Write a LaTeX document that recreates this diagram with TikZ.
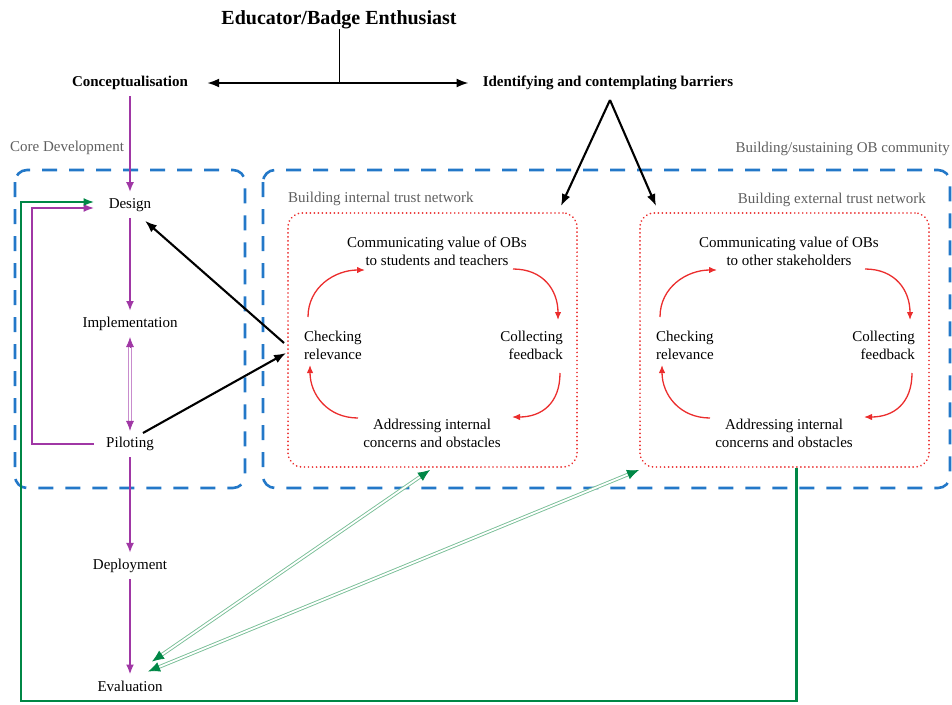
\documentclass[tikz,border=0pt]{standalone}
\usepackage{fontspec}
\setmainfont{Liberation Serif}
\usetikzlibrary{arrows.meta,calc}
\definecolor{obpurple}{RGB}{160,55,165}
\definecolor{obpurplelight}{RGB}{200,140,205}
\definecolor{obblue}{RGB}{35,120,200}
\definecolor{obred}{RGB}{235,45,45}
\definecolor{obgreen}{RGB}{0,135,70}
\definecolor{obgreenlight}{RGB}{120,190,150}
\definecolor{obgray}{RGB}{95,95,95}
\begin{document}
\begin{tikzpicture}[x=1pt,y=-1pt,
  every node/.style={font=\fontsize{15}{18}\selectfont, inner sep=0pt},
  colnode/.style={inner sep=6pt},
  boldnode/.style={font=\fontsize{15}{18}\selectfont\bfseries},
  graylabel/.style={text=obgray},
  bluedash/.style={draw=obblue, line width=2.6pt, dash pattern=on 15pt off 12pt, rounded corners=12pt},
  redbox/.style={draw=obred, line width=1.9pt, dash pattern=on 0.01pt off 4pt, line cap=round, rounded corners=14pt, minimum width=289pt, minimum height=254pt},
  parrow/.style={draw=obpurple, line width=2pt, -{Latex[length=10pt,width=8pt]}},
  ploop/.style={draw=obpurple, line width=2.2pt, -{Latex[length=11pt,width=8pt]}},
  gloop/.style={draw=obgreen, line width=2.2pt, -{Latex[length=11pt,width=8pt]}},
  barrow/.style={draw=black, line width=2.1pt, -{Latex[length=12pt,width=9pt]}},
  bdarrow/.style={draw=black, line width=2.1pt, {Latex[length=12pt,width=9pt]}-{Latex[length=12pt,width=9pt]}},
  rarrow/.style={draw=obred, line width=1.3pt, -{Latex[length=8pt,width=6.5pt]}},
  dblg/.style={draw=obgreenlight, double=white, double distance=1.8pt, line width=0.9pt},
  dblp/.style={draw=obpurplelight, double=white, double distance=1.8pt, line width=0.9pt},
  gtip/.style={draw=obgreen, line width=0.8pt, -{Latex[length=12pt,width=10pt]}},
  ptip/.style={draw=obpurple, line width=0.8pt, -{Latex[length=10pt,width=8pt]}}
]
\useasboundingbox (0,0) rectangle (952,704);

% dashed regions
\draw[bluedash] (15,170) rectangle (245,488);
\draw[bluedash] (263,170) rectangle (950,488);

% labels
\node[graylabel, anchor=west] (lcore) at (10,148) {Core Development};
\node[graylabel, anchor=east] (lcomm) at (950,149) {Building/sustaining OB community};
\node[graylabel, anchor=west] (lint) at (288,199) {Building internal trust network};
\node[graylabel, anchor=east] (lext) at (926,200) {Building external trust network};

% top
\node[font=\fontsize{20}{24}\selectfont\bfseries] (title) at (339,20) {Educator/Badge Enthusiast};
\node[boldnode, colnode] (concept) at (130,83) {Conceptualisation};
\node[boldnode] (ident) at (608,83) {Identifying and contemplating barriers};

% core column
\node[colnode] (design) at (130,205) {Design};
\node[colnode] (impl) at (130,324) {Implementation};
\node[colnode] (pilot) at (130,444) {Piloting};
\node[colnode] (deploy) at (130,566) {Deployment};
\node[colnode] (eval) at (130,686) {Evaluation};

% trust network boxes
\node[redbox] (intbox) at (432.5,340) {};
\node[redbox] (extbox) at (784.5,340) {};

% internal network texts
\node[align=center] (comm1) at (437,251) {Communicating value of OBs\\to students and teachers};
\node[align=left, anchor=west] (chk1) at (304,345) {Checking\\relevance};
\node[align=right, anchor=east] (col1) at (563,345) {Collecting\\feedback};
\node[align=center] (adr1) at (432,433) {Addressing internal\\concerns and obstacles};
% external network texts
\node[align=center] (comm2) at (789,251) {Communicating value of OBs\\to other stakeholders};
\node[align=left, anchor=west] (chk2) at (656,345) {Checking\\relevance};
\node[align=right, anchor=east] (col2) at (915,345) {Collecting\\feedback};
\node[align=center] (adr2) at (784,433) {Addressing internal\\concerns and obstacles};

% top connectors
\coordinate (ha) at ($(concept.east)+(13,0)$);
\coordinate (hb) at ($(ident.west)+(-14,0)$);
\draw[bdarrow] (ha) -- (hb);
\draw[line width=0.7pt] (title.south) -- (title.south |- ha);
\draw[barrow] ($(ident)+(2,17)$) -- ($(intbox.north east)+(-17,-6)$);
\draw[barrow] ($(ident)+(2,17)$) -- ($(extbox.north west)+(17,-6)$);

% core column arrows
\draw[parrow] (concept) -- (design);
\draw[parrow] (design) -- (impl);
\draw[parrow] (pilot) -- (deploy);
\draw[parrow] (deploy) -- (eval);
\draw[dblp, shorten <=8pt, shorten >=8pt] (impl.south) -- (pilot.north);
\draw[ptip] ($(impl.south)!10pt!(pilot.north)$) -- (impl.south);
\draw[ptip] ($(pilot.north)!10pt!(impl.south)$) -- (pilot.north);

% loops back to design
\draw[ploop] ($(pilot.west)+(-6,0)$) -- (32,444) |- ($(design.west)+(-8,3)$);
\draw[gloop] ($(extbox.south)+(12,0)$) |- (21,701) |- ($(design.west)+(-8,-3)$);

% black arrows between core and internal network
\draw[barrow] ($(intbox.west)+(-3,3)$) -- ($(design.south)+(15,3)$);
\draw[barrow] ($(pilot.north)+(13,2)$) -- ($(intbox.west)+(-1,13)$);

% red cycles
\foreach \n in {1,2} {
  \draw[rarrow] ($(chk\n.west)+(4,-28)$) .. controls +(0,-30) and +(-30,0) .. ($(comm\n)+(-72,19)$);
  \draw[rarrow] ($(comm\n)+(76,18)$) .. controls +(30,0) and +(0,-30) .. ($(col\n.east)+(-5,-25)$);
  \draw[rarrow] ($(col\n.east)+(-3,28)$) .. controls +(0,30) and +(30,0) .. ($(adr\n)+(80,-16)$);
  \draw[rarrow] ($(adr\n)+(-74,-15)$) .. controls +(-30,0) and +(0,30) .. ($(chk\n.west)+(6,20)$);
}

% green double arrows between evaluation and networks
\coordinate (g1a) at ($(eval.north)+(22,-13)$);
\coordinate (g1b) at ($(intbox.south)+(-2.5,2)$);
\coordinate (g2a) at ($(eval.north)+(18,-3)$);
\coordinate (g2b) at ($(extbox.south west)+(0,2)$);
\draw[dblg, shorten <=9pt, shorten >=9pt] (g1a) -- (g1b);
\draw[dblg, shorten <=9pt, shorten >=9pt] (g2a) -- (g2b);
\draw[gtip] ($(g1a)!12pt!(g1b)$) -- (g1a);
\draw[gtip] ($(g1b)!12pt!(g1a)$) -- (g1b);
\draw[gtip] ($(g2a)!12pt!(g2b)$) -- (g2a);
\draw[gtip] ($(g2b)!12pt!(g2a)$) -- (g2b);
\end{tikzpicture}
\end{document}
